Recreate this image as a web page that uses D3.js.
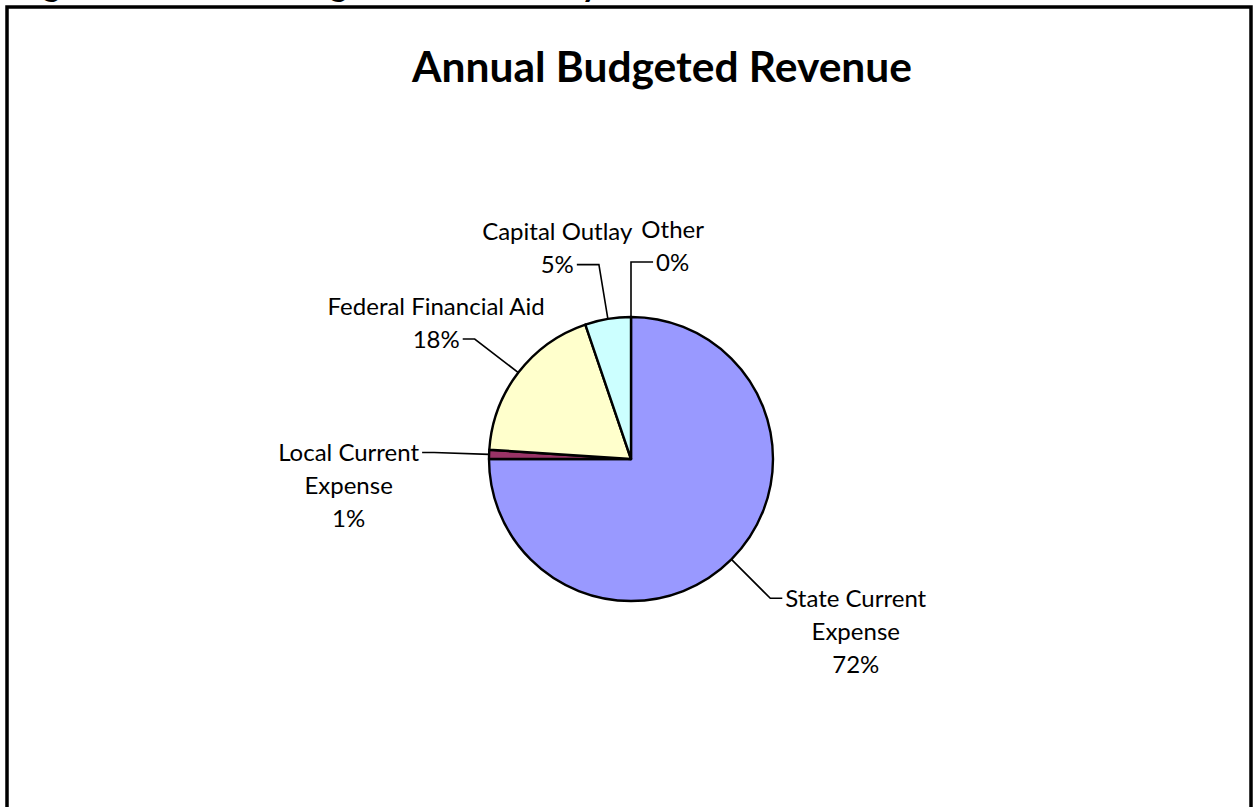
<!DOCTYPE html>
<html>
<head>
<meta charset="utf-8">
<script src="https://cdn.jsdelivr.net/npm/d3@7"></script>
<style>
  html, body { margin: 0; padding: 0; background: #ffffff; }
  svg { display: block; }
</style>
</head>
<body>
<svg id="chart" width="1255" height="807"></svg>
<script>
// Revenue sources and their share of the annual budget (percent)
const categories = ["State Current Expense", "Local Current Expense", "Federal Financial Aid", "Capital Outlay", "Other"];
const labelLines = [["State Current", "Expense"], ["Local Current", "Expense"], ["Federal Financial Aid"], ["Capital Outlay"], ["Other"]];
const shares = [72, 1, 18, 5, 0];
const sliceColors = ["#9999FF", "#993366", "#FFFFCC", "#CCFFFF", "#FFFFFF"];

const title = "Annual Budgeted Revenue";
const caption = "Figure 1: Annual Budgeted Revenue by Source";

const W = 1255, H = 807;
const svg = d3.select("#chart");
const FONT = "Lato, 'Open Sans', sans-serif";

// Document caption running above the chart frame
svg.append("text")
  .attr("x", 15).attr("y", -4)
  .attr("font-family", FONT)
  .attr("font-weight", 700)
  .attr("font-size", 34)
  .attr("fill", "#000")
  .text(caption);

// Chart frame
svg.append("rect")
  .attr("x", 7).attr("y", 7)
  .attr("width", 1244).attr("height", H + 20)
  .attr("fill", "#fff")
  .attr("stroke", "#000")
  .attr("stroke-width", 3.5);

// Title
svg.append("text")
  .attr("x", 662).attr("y", 82)
  .attr("text-anchor", "middle")
  .attr("font-family", FONT)
  .attr("font-weight", 700)
  .attr("font-size", 42.5)
  .attr("fill", "#000")
  .text(title);

const cx = 631, cy = 459, radius = 142;

const data = categories.map((c, i) => ({ name: c, value: shares[i], lines: labelLines[i], color: sliceColors[i] }));

const pie = d3.pie().sort(null).value(d => d.value).startAngle(0).endAngle(2 * Math.PI);
const arcs = pie(data);
const arc = d3.arc().innerRadius(0).outerRadius(radius);

const g = svg.append("g").attr("transform", `translate(${cx},${cy})`);

g.selectAll("path.slice")
  .data(arcs.filter(a => a.endAngle - a.startAngle > 0))
  .join("path")
  .attr("class", "slice")
  .attr("d", arc)
  .attr("fill", d => d.data.color)
  .attr("stroke", "#000")
  .attr("stroke-width", 2.4)
  .attr("stroke-linejoin", "round");

// Data labels with elbow leader lines
const fmt = v => d3.format(".0f")(v) + "%";
const fontSize = 24, lineH = 33, leaderLen = 55, tick = 12, gap = 3;
const TAU = 2 * Math.PI;

const measurer = svg.append("text").attr("font-family", FONT).attr("font-size", fontSize).attr("visibility", "hidden");
const measure = s => { measurer.text(s); return measurer.node().getComputedTextLength(); };

// lay out each label block next to the end of its leader
const layout = arcs.map(a => {
  const mid = (a.startAngle + a.endAngle) / 2;
  let norm = ((mid % TAU) + TAU) % TAU;
  if (norm > TAU - 1e-6) norm = 0;
  const dx = Math.sin(norm), dy = -Math.cos(norm);
  const sgn = norm < Math.PI ? 1 : -1;
  const lines = a.data.lines.concat([fmt(a.data.value)]);
  const widths = lines.map(measure);
  const k = dy < -0.5 ? lines.length - 1 : 0;
  const L = {
    sgn, lines, widths, k,
    ex: cx + radius * dx, ey: cy + radius * dy,
    bx: cx + (radius + leaderLen) * dx, by: cy + (radius + leaderLen) * dy,
    tick
  };
  return L;
});

const blockBox = L => {
  const tx = L.bx + L.sgn * L.tick;
  const centerX = tx + L.sgn * (gap + L.widths[L.k] / 2);
  const halfW = d3.max(L.widths) / 2;
  const top = L.by + (0 - L.k) * lineH - lineH / 2;
  const bottom = L.by + (L.lines.length - 1 - L.k) * lineH + lineH / 2;
  return { x0: centerX - halfW, x1: centerX + halfW, y0: top, y1: bottom, tx, centerX };
};

// push apart neighbouring blocks that collide by lengthening their ticks
for (let iter = 0; iter < 50; iter++) {
  let moved = false;
  for (let i = 0; i < layout.length; i++) {
    for (let j = i + 1; j < layout.length; j++) {
      const A = blockBox(layout[i]), B = blockBox(layout[j]);
      const ox = Math.min(A.x1, B.x1) - Math.max(A.x0, B.x0);
      const oy = Math.min(A.y1, B.y1) - Math.max(A.y0, B.y0);
      if (ox > -8 && oy > 0) {
        const push = (ox + 8) / 2 + 0.5;
        layout[i].tick += push;
        layout[j].tick += push;
        moved = true;
      }
    }
  }
  if (!moved) break;
}

const labels = svg.append("g")
  .attr("font-family", FONT)
  .attr("font-size", fontSize)
  .attr("fill", "#000");

layout.forEach(L => {
  const box = blockBox(L);
  labels.append("path")
    .attr("d", `M${L.ex},${L.ey}L${L.bx},${L.by}L${box.tx},${L.by}`)
    .attr("fill", "none")
    .attr("stroke", "#000")
    .attr("stroke-width", 1.6);

  const baseShift = fontSize * 0.36;
  L.lines.forEach((s, i) => {
    labels.append("text")
      .attr("x", box.centerX)
      .attr("y", L.by + (i - L.k) * lineH + baseShift)
      .attr("text-anchor", "middle")
      .text(s);
  });
});
measurer.remove();
</script>
</body>
</html>
